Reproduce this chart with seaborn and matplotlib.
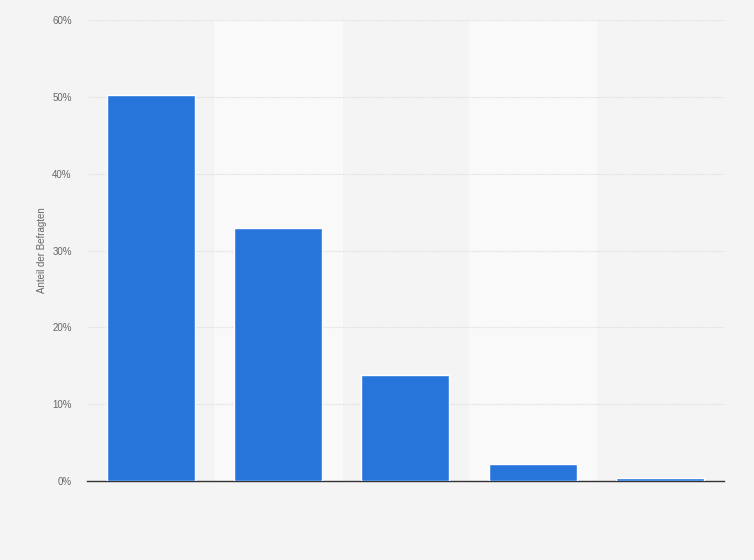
import matplotlib
matplotlib.use("Agg")
import matplotlib.pyplot as plt
import seaborn as sns
import pandas as pd
from matplotlib.ticker import FuncFormatter

# values (share of respondents, %)
categories = ["1", "2", "3", "4", "5"]
values = [50.3, 32.9, 13.8, 2.2, 0.4]

df = pd.DataFrame({"cat": categories, "val": values})

sns.set_style("white")
plt.rcParams["font.family"] = ["Liberation Sans", "DejaVu Sans"]
fig = plt.figure(figsize=(7.54, 5.60), dpi=100, facecolor="#f4f4f4")
ax = fig.add_axes([0.1154, 0.141, 0.8446, 0.823])
ax.set_facecolor("#f4f4f4")

# alternating lighter column bands
for i in range(len(categories)):
    if i % 2 == 1:
        ax.axvspan(i - 0.5, i + 0.5, color="#f9f9f9", zorder=0)

sns.barplot(data=df, x="cat", y="val", color="#2775db", width=0.69,
            saturation=1, ax=ax, zorder=3)

ax.set_xlim(-0.5, len(categories) - 0.5)
ax.set_ylim(0, 60)
ax.set_yticks(range(0, 61, 10))
ax.yaxis.set_major_formatter(FuncFormatter(lambda v, p: f"{v:.0f}%"))
ax.grid(axis="y", color="#dcdcdc", linestyle=(0, (1, 1)), linewidth=0.8, zorder=1)
ax.set_axisbelow(True)

ax.set_xticks([])
ax.set_xlabel("")
ax.set_ylabel("Anteil der Befragten", fontsize=7, color="#666666", labelpad=4)
ax.tick_params(axis="y", length=0, labelsize=7, labelcolor="#666666", pad=11)

for s in ["top", "right", "left"]:
    ax.spines[s].set_visible(False)
ax.spines["bottom"].set_color("#333333")
ax.spines["bottom"].set_linewidth(1)

fig.savefig("out.png", dpi=100, facecolor=fig.get_facecolor())
